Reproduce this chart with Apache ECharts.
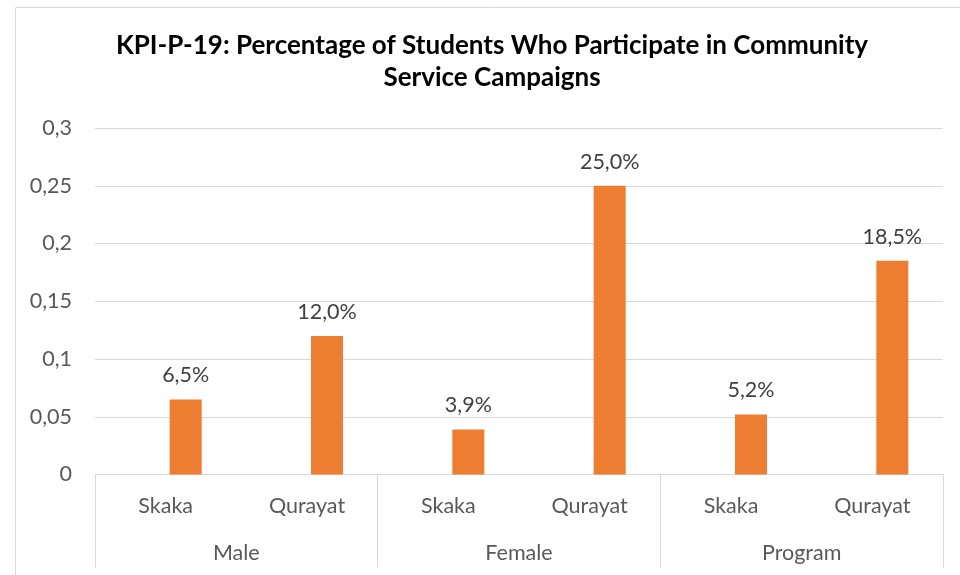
<!DOCTYPE html>
<html>
<head>
<meta charset="utf-8">
<script src="https://cdn.jsdelivr.net/npm/echarts@6/dist/echarts.min.js"></script>
<style>html,body{margin:0;padding:0;background:#fff}#c{width:960px;height:575px}</style>
</head>
<body>
<div id="c"></div>
<script>
const titleText = 'KPI-P-19: Percentage of Students Who Participate in Community\nService Campaigns';
const campuses = ['Skaka', 'Qurayat', 'Skaka', 'Qurayat', 'Skaka', 'Qurayat'];
const groups = ['Male', 'Female', 'Program'];
const values = [0.065, 0.12, 0.039, 0.25, 0.052, 0.185];
const placeholder = [null, null, null, null, null, null];
const yMin = 0, yMax = 0.3, yStep = 0.05;

const font = 'Lato, "Open Sans", sans-serif';
const fs = 21.5;
const chart = echarts.init(document.getElementById('c'));
chart.setOption({
  animation: false,
  title: {
    text: titleText,
    left: 492,
    textAlign: 'center',
    top: 30,
    padding: 0,
    textStyle: { fontFamily: font, fontSize: 26, fontWeight: 'bold', color: '#000', lineHeight: 32 }
  },
  graphic: [{
    type: 'rect', left: 13, top: 5, silent: true,
    shape: { width: 1000, height: 1000 },
    style: { fill: 'none', stroke: '#d9d9d9', lineWidth: 1 }
  }],
  grid: { left: 95, right: 17, top: 128, bottom: 100.5 },
  xAxis: [{
    type: 'category', data: campuses, position: 'bottom', offset: 0,
    axisLine: { show: false }, axisTick: { show: false },
    axisLabel: { margin: 21, fontFamily: font, fontSize: fs, color: '#595959' }
  }, {
    type: 'category', data: groups, position: 'bottom', offset: 0,
    axisLine: { show: true, lineStyle: { color: '#d9d9d9', width: 1 } },
    axisTick: { show: true, length: 93, lineStyle: { color: '#d9d9d9', width: 1 } },
    axisLabel: { margin: 68, fontFamily: font, fontSize: fs, color: '#595959' }
  }],
  yAxis: {
    type: 'value', min: yMin, max: yMax, interval: yStep,
    axisLine: { show: false }, axisTick: { show: false },
    splitLine: { lineStyle: { color: '#d9d9d9', width: 1 } },
    axisLabel: {
      margin: 23, fontFamily: font, fontSize: fs, color: '#595959',
      formatter: v => String(+v.toFixed(2)).replace('.', ',')
    }
  },
  series: [{
    type: 'bar', xAxisIndex: 0, data: placeholder, barWidth: 32, barGap: '25%', silent: true
  }, {
    type: 'bar', xAxisIndex: 0, data: values, barWidth: 32, barGap: '25%',
    itemStyle: { color: '#ED7D31' },
    label: {
      show: true, position: 'top', distance: 13,
      fontFamily: font, fontSize: fs, color: '#404040',
      formatter: p => (p.value * 100).toFixed(1).replace('.', ',') + '%'
    }
  }]
});
</script>
</body>
</html>
